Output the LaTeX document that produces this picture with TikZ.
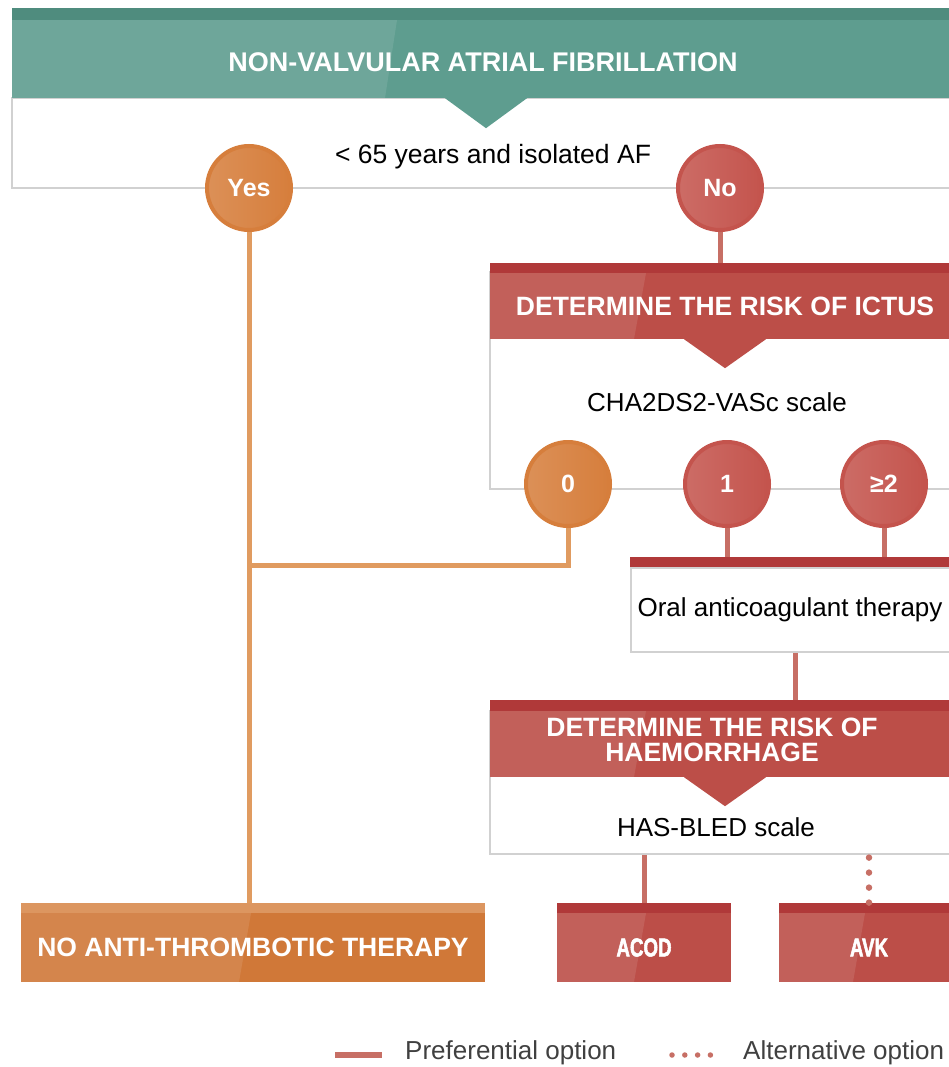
\documentclass[tikz,border=0pt]{standalone}
\usepackage{fontspec}
\setmainfont{Liberation Sans}
\newfontfamily\condbold[FakeStretch=0.72, FakeBold=2]{Liberation Sans Bold}
\usetikzlibrary{positioning,backgrounds}

\definecolor{afteal}{HTML}{5E9D8F}
\definecolor{aftealdk}{HTML}{4F8C7E}
\definecolor{aforange}{HTML}{D07838}
\definecolor{aforangelt}{HTML}{DC9660}
\definecolor{afred}{HTML}{BC4E48}
\definecolor{afreddk}{HTML}{B03939}
\definecolor{afcirc}{HTML}{C4544D}
\definecolor{afcircor}{HTML}{D67E3C}
\definecolor{afline}{HTML}{C76F65}
\definecolor{aflineor}{HTML}{E09B60}

\tikzset{
  shine/.style={path picture={\fill[white,fill opacity=.1] (path picture bounding box.south west) -- ([xshift=-#1-6pt]path picture bounding box.south) -- ([xshift=-#1+6pt]path picture bounding box.north) -- (path picture bounding box.north west) -- cycle;}},
  shine/.default=85pt,
  band/.style={fill=#1, inner sep=0pt, text=white, font=\fontsize{26.5}{24.5}\selectfont\bfseries, align=center},
  panel/.style={fill=white, draw=black!18, line width=1.2pt, inner sep=0pt},
  circ/.style={circle, minimum size=84pt, inner sep=0pt, draw=#1, line width=4pt, left color=#1!86!white, right color=#1, text=white, font=\fontsize{25}{25}\selectfont\bfseries},
  plain/.style={inner sep=0pt, font=\fontsize{26}{26}\selectfont},
  oline/.style={aflineor, line width=5pt},
  rline/.style={afline, line width=5pt},
  altline/.style={afline, line width=6.5pt, line cap=round, dash pattern=on 0pt off 15pt},
}

\begin{document}
\begin{tikzpicture}[x=1pt, y=-1pt]
\useasboundingbox (0,0) rectangle (949,1067);
\clip (0,0) rectangle (949,1067);

\node[panel, minimum width=948pt, minimum height=90pt] (qbox) at (486,143) {};
\node[band=afteal, shine=95pt, minimum width=948pt, minimum height=78pt] (title) at (486,59) {};
\fill[aftealdk] (title.north west) rectangle ([yshift=12pt]title.north east);
\fill[afteal] ([xshift=-41pt]title.south) -- ([xshift=41pt]title.south) -- ([yshift=-30pt]title.south) -- cycle;
\node[band=none, text=white, font=\fontsize{27}{27}\selectfont\bfseries] (titletxt) at (483,62) {NON-VALVULAR ATRIAL FIBRILLATION};
\node[plain, font=\fontsize{26.5}{26.5}\selectfont] (qtxt) at (493,157) {< 65 years and isolated AF};

\node[circ=afcircor] (yes) at (249,188) {Yes};
\node[circ=afcirc] (no) at (720,188) {No};

\node[panel, minimum width=470pt, minimum height=217pt] (ibox) at (725,380.5) {};
\node[band=afred, shine, minimum width=470pt, minimum height=66pt] (ictus) at (725,306) {DETERMINE THE RISK OF ICTUS};
\fill[afreddk] (ictus.north west) rectangle ([yshift=10pt]ictus.north east);
\fill[afred] ([xshift=-41pt]ictus.south) -- ([xshift=41pt]ictus.south) -- ([yshift=-29pt]ictus.south) -- cycle;
\node[plain] (itxt) at (717,402) {CHA2DS2-VASc scale};

\node[circ=afcircor] (c0) at (568,484) {0};
\node[circ=afcirc] (c1) at (727,484) {1};
\node[circ=afcirc] (c2) at (884,484) {≥2};
\coordinate (j0) at (249,565);

\node[panel, minimum width=329pt, minimum height=84pt] (oat) at (795.5,610) {};
\fill[afreddk] (oat.north west) rectangle ([yshift=10pt]oat.north east);
\node[plain] (oattxt) at (790,610) {Oral anticoagulant therapy};

\node[panel, minimum width=470pt, minimum height=143pt] (hbox) at (725,782.5) {};
\node[band=afred, shine, minimum width=470pt, minimum height=66pt] (haem) at (725,744) {};
\fill[afreddk] (haem.north west) rectangle ([yshift=11pt]haem.north east);
\fill[afred] ([xshift=-41pt]haem.south) -- ([xshift=41pt]haem.south) -- ([yshift=-29pt]haem.south) -- cycle;
\node[band=none, text=white] (haemtxt) at (712,740) {DETERMINE THE RISK OF\\HAEMORRHAGE};
\node[plain] (htxt) at (716,827) {HAS-BLED scale};

\node[band=aforange, shine=8pt, minimum width=464pt, minimum height=69pt] (natt) at (253,947.5) {NO ANTI-THROMBOTIC THERAPY};
\fill[aforangelt] (natt.north west) rectangle ([yshift=10pt]natt.north east);
\node[band=afred, shine=4pt, minimum width=174pt, minimum height=69pt, font=\fontsize{26}{26}\selectfont\condbold] (acod) at (644,947.5) {ACOD};
\fill[afreddk] (acod.north west) rectangle ([yshift=10pt]acod.north east);
\node[band=afred, shine=10pt, minimum width=180pt, minimum height=69pt, font=\fontsize{26}{26}\selectfont\condbold] (avk) at (869,947.5) {AVK};
\fill[afreddk] (avk.north west) rectangle ([yshift=10pt]avk.north east);

\begin{pgfonlayer}{background}
\draw[oline] (yes) -- (yes |- natt.north);
\draw[oline] (c0) |- (j0);
\draw[rline] (no) -- (no |- ictus.north);
\draw[rline] (c1) -- (c1 |- oat.north);
\draw[rline] (c2) -- (c2 |- oat.north);
\draw[rline] (oat) -- (oat |- haem.north);
\draw[rline] (acod |- hbox) -- (acod);
\end{pgfonlayer}
\path (avk |- hbox.south) ++(0,3) coordinate (altA);
\path (avk.north) ++(0,-3) coordinate (altB);
\draw[altline] (altA) -- (altB);

\coordinate (lgA) at (335,1055);
\coordinate (lgB) at (382,1055);
\draw[afline, line width=6pt] (lgA) -- (lgB);
\node[plain, anchor=west, text=black!75] (lgpref) at (405,1053) {Preferential option};
\coordinate (lgC) at (672,1055);
\coordinate (lgD) at (710.5,1055);
\draw[altline, line width=5.5pt, dash pattern=on 0pt off 12.8pt] (lgC) -- (lgD);
\node[plain, anchor=west, text=black!75] (lgalt) at (743,1053) {Alternative option};
\end{tikzpicture}
\end{document}
